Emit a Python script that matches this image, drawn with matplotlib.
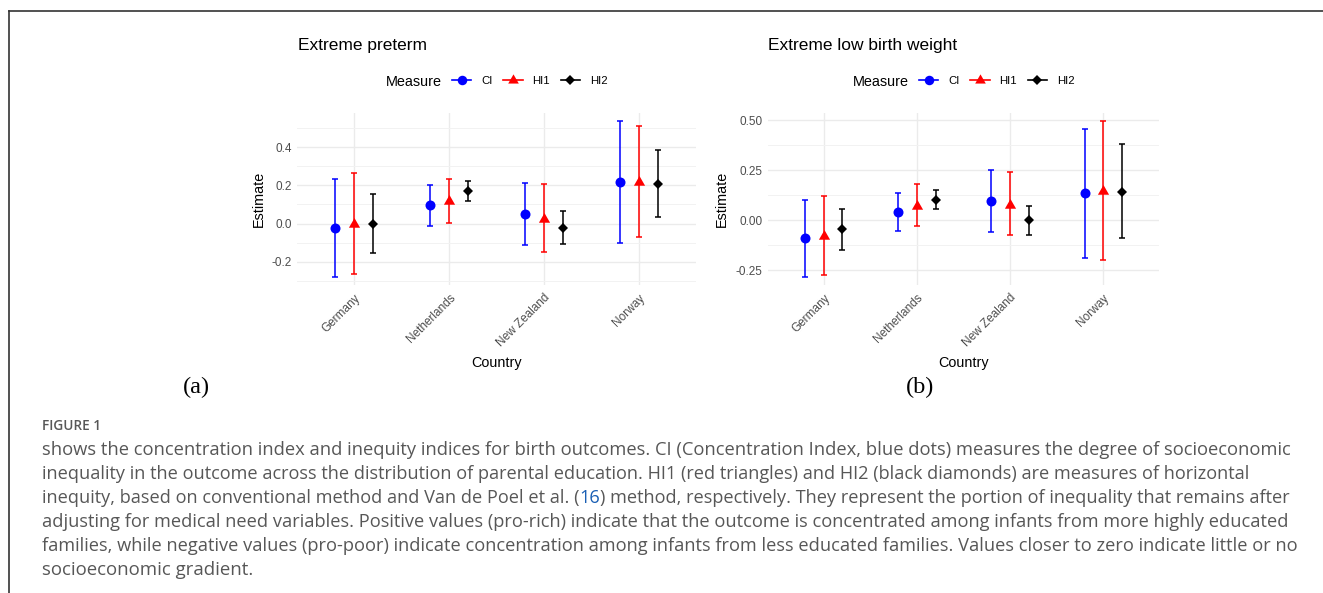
import matplotlib
matplotlib.use("Agg")
import matplotlib.pyplot as plt
from matplotlib.lines import Line2D
from matplotlib.ticker import MultipleLocator, FormatStrFormatter

plt.rcParams['font.family'] = ['Liberation Sans', 'DejaVu Sans']
plt.rcParams['axes.unicode_minus'] = False

countries = ["Germany", "Netherlands", "New Zealand", "Norway"]
measures = ["CI", "HI1", "HI2"]

# (a) Extreme preterm
pre_ci_est = [-0.024, 0.098, 0.051, 0.219]
pre_ci_lo = [-0.280, -0.010, -0.114, -0.100]
pre_ci_hi = [0.232, 0.202, 0.214, 0.537]
pre_hi1_est = [0.000, 0.118, 0.026, 0.216]
pre_hi1_lo = [-0.261, 0.004, -0.147, -0.070]
pre_hi1_hi = [0.263, 0.235, 0.205, 0.509]
pre_hi2_est = [0.000, 0.168, -0.021, 0.207]
pre_hi2_lo = [-0.154, 0.116, -0.105, 0.037]
pre_hi2_hi = [0.155, 0.225, 0.065, 0.382]

# (b) Extreme low birth weight
lbw_ci_est = [-0.090, 0.042, 0.098, 0.135]
lbw_ci_lo = [-0.285, -0.054, -0.057, -0.188]
lbw_ci_hi = [0.102, 0.135, 0.249, 0.457]
lbw_hi1_est = [-0.080, 0.072, 0.076, 0.146]
lbw_hi1_lo = [-0.273, -0.029, -0.074, -0.199]
lbw_hi1_hi = [0.122, 0.180, 0.239, 0.497]
lbw_hi2_est = [-0.045, 0.102, 0.000, 0.140]
lbw_hi2_lo = [-0.147, 0.057, -0.074, -0.090]
lbw_hi2_hi = [0.057, 0.150, 0.073, 0.380]

caption_lines = [
    "shows the concentration index and inequity indices for birth outcomes. CI (Concentration Index, blue dots) measures the degree of socioeconomic",
    "inequality in the outcome across the distribution of parental education. HI1 (red triangles) and HI2 (black diamonds) are measures of horizontal",
    ["inequity, based on conventional method and Van de Poel et al. (", "16", ") method, respectively. They represent the portion of inequality that remains after"],
    "adjusting for medical need variables. Positive values (pro-rich) indicate that the outcome is concentrated among infants from more highly educated",
    "families, while negative values (pro-poor) indicate concentration among infants from less educated families. Values closer to zero indicate little or no",
    "socioeconomic gradient.",
]
# right end (px) of each caption line in the reference
caption_ends = [1291, 1252, 1289, 1290, 1298, 253]

W, H = 1323, 593
fig = plt.figure(figsize=(W / 100, H / 100), dpi=100)

colors = {"CI": "#0000FF", "HI1": "#FF0000", "HI2": "#000000"}
tri = [(0, 1), (-0.866, -0.5), (0.866, -0.5)]
markers = {"CI": "o", "HI1": tri, "HI2": "D"}
msizes = {"CI": 7.2, "HI1": 9.3, "HI2": 5.2}
offsets = {"CI": -0.2, "HI1": 0.0, "HI2": 0.2}


def fx(px):
    return px / W


def fy(py):
    return 1 - py / H


def draw_panel(ax, series, major, minor, fmt):
    xs = list(range(1, len(countries) + 1))
    for m in measures:
        est, lo, hi = series[m]
        xp = [x + offsets[m] for x in xs]
        yerr = [[e - l for e, l in zip(est, lo)], [h - e for e, h in zip(est, hi)]]
        ax.errorbar(xp, est, yerr=yerr, fmt='none', ecolor=colors[m],
                    elinewidth=1.1, capsize=2.4, capthick=1.1, zorder=3)
        ax.plot(xp, est, linestyle='none', marker=markers[m], ms=msizes[m],
                color=colors[m], markeredgewidth=0, zorder=4)
    ax.set_xlim(0.4, len(countries) + 0.6)
    ax.margins(y=0.05)
    ax.set_xticks(xs)
    ax.set_xticklabels(countries)
    ax.yaxis.set_major_locator(MultipleLocator(major))
    ax.yaxis.set_minor_locator(MultipleLocator(minor))
    ax.yaxis.set_major_formatter(FormatStrFormatter(fmt))
    ax.grid(True, which='major', color='#EBEBEB', linewidth=1.0, zorder=0)
    ax.grid(True, which='minor', axis='y', color='#F2F2F2', linewidth=0.7, zorder=0)
    ax.set_axisbelow(True)
    for s in ax.spines.values():
        s.set_visible(False)
    ax.tick_params(which='both', length=0, labelsize=8.5, labelcolor='#4D4D4D')
    ax.tick_params(axis='y', pad=4)
    ax.tick_params(axis='x', pad=5)
    for lab in ax.get_xticklabels():
        lab.set_rotation(45)
        lab.set_ha('right')
        lab.set_va('top')
        lab.set_rotation_mode('anchor')


ax1 = fig.add_axes([fx(297.4), fy(285), fx(398.2), 172 / H])
draw_panel(ax1, {"CI": (pre_ci_est, pre_ci_lo, pre_ci_hi),
                 "HI1": (pre_hi1_est, pre_hi1_lo, pre_hi1_hi),
                 "HI2": (pre_hi2_est, pre_hi2_lo, pre_hi2_hi)}, 0.2, 0.1, '%.1f')

ax2 = fig.add_axes([fx(767.8), fy(285), fx(391.4), 172 / H])
draw_panel(ax2, {"CI": (lbw_ci_est, lbw_ci_lo, lbw_ci_hi),
                 "HI1": (lbw_hi1_est, lbw_hi1_lo, lbw_hi1_hi),
                 "HI2": (lbw_hi2_est, lbw_hi2_lo, lbw_hi2_hi)}, 0.25, 0.125, '%.2f')

# titles, axis labels
fig.text(fx(298), fy(50), "Extreme preterm", fontsize=12.5, va='baseline', ha='left')
fig.text(fx(768), fy(50), "Extreme low birth weight", fontsize=12.5, va='baseline', ha='left')
for cx, ex in [((297.4 + 695.6) / 2, 258.5), ((767.8 + 1159.2) / 2, 722)]:
    fig.text(fx(cx), fy(367), "Country", fontsize=10.4, ha='center', va='baseline')
    fig.text(fx(ex), fy(199), "Estimate", fontsize=10.4, ha='center', va='center', rotation=90)

# legends
handles = [Line2D([], [], color=colors[m], marker=markers[m], lw=1.2,
                  ms=msizes[m] * 0.95, markeredgewidth=0) for m in measures]
for mx, kx in [(442, 452), (909, 919)]:
    fig.text(fx(mx), fy(86.5), "Measure", fontsize=10.4, ha='right', va='baseline')
    fig.legend(handles, measures, ncol=3, loc='center left',
               bbox_to_anchor=(fx(kx), fy(81)), frameon=False, fontsize=8.2,
               handlelength=1.7, handletextpad=0.85, columnspacing=0.95,
               borderpad=0, borderaxespad=0)

# panel letters
fig.text(fx(196), fy(387), "(a)", fontsize=17.5, family=['Liberation Serif', 'DejaVu Serif'],
         ha='center', va='center')
fig.text(fx(920), fy(387), "(b)", fontsize=17.5, family=['Liberation Serif', 'DejaVu Serif'],
         ha='center', va='center')

# frame lines
fig.add_artist(Line2D([fx(8.5), 1], [fy(10.5), fy(10.5)], color='#333333', lw=1.2))
fig.add_artist(Line2D([fx(8.5), fx(8.5)], [fy(10.5), 0], color='#333333', lw=1.2))

# caption
cap_color = '#575757'
cap_font = ['Open Sans', 'DejaVu Sans']
fig.text(fx(42), fy(430), "FIGURE 1", fontsize=9.8, color=cap_color, family=cap_font,
         weight='semibold', ha='left', va='baseline')

renderer = fig.canvas.get_renderer()
for i, line in enumerate(caption_lines):
    segs = line if isinstance(line, list) else [line]
    probe = fig.text(0, 0, "".join(segs), fontsize=10, family=cap_font)
    w0 = probe.get_window_extent(renderer).width
    probe.remove()
    size = 10 * (caption_ends[i] - 42) / w0
    yb = fy(455 + 24 * i)
    x = fx(42)
    for j, seg in enumerate(segs):
        c = '#1a5fb4' if (len(segs) > 1 and j == 1) else cap_color
        t = fig.text(x, yb, seg, fontsize=size, color=c, family=cap_font,
                     ha='left', va='baseline')
        x += t.get_window_extent(renderer).width / W

fig.savefig("out.png", dpi=100)
